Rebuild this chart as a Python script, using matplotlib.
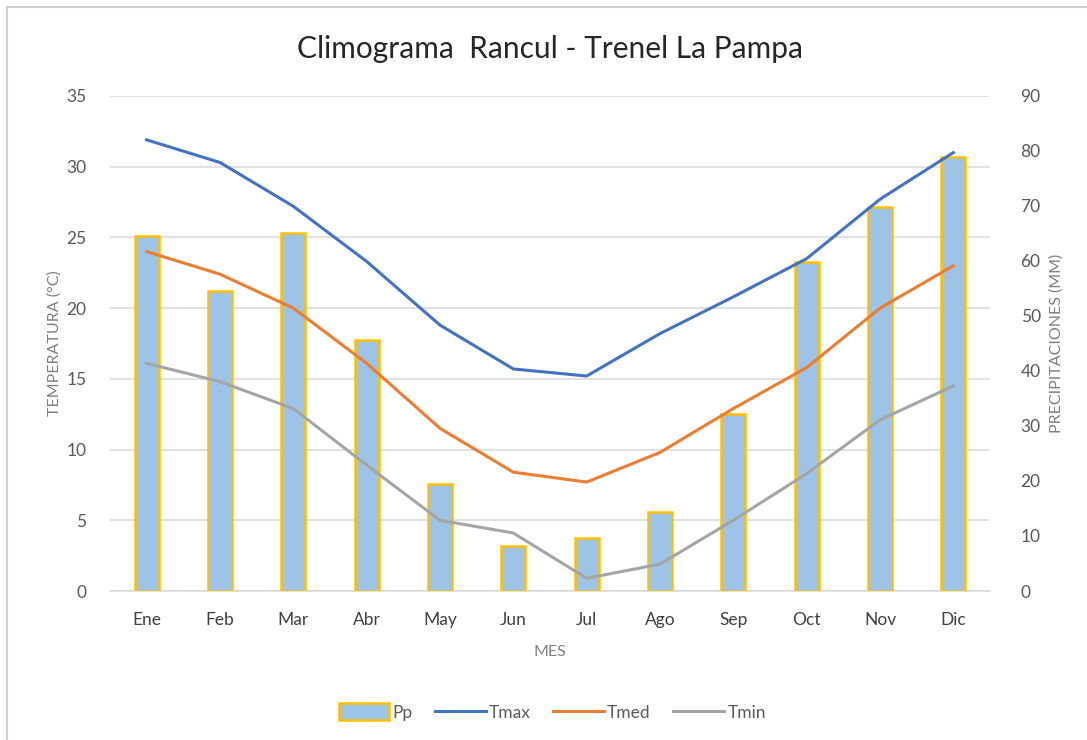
import matplotlib
matplotlib.use("Agg")
import matplotlib.pyplot as plt
from matplotlib.patches import Rectangle
import numpy as np

plt.rcParams['font.family'] = ['Lato', 'DejaVu Sans']

meses = ['Ene', 'Feb', 'Mar', 'Abr', 'May', 'Jun', 'Jul', 'Ago', 'Sep', 'Oct', 'Nov', 'Dic']
pp = [64.5, 54.5, 65.0, 45.7, 19.4, 8.1, 9.6, 14.4, 32.2, 59.8, 69.8, 78.9]
tmax = [31.9, 30.3, 27.2, 23.3, 18.8, 15.7, 15.2, 18.2, 20.8, 23.5, 27.7, 31.0]
tmed = [24.0, 22.4, 20.0, 16.1, 11.5, 8.4, 7.7, 9.8, 12.9, 15.8, 20.0, 23.0]
tmin = [16.1, 14.8, 12.9, 8.9, 5.0, 4.1, 0.9, 1.9, 5.0, 8.3, 12.1, 14.5]

gris_txt = '#595959'
gris_eje = '#7f7f7f'
gris_grid = '#d9d9d9'

fig = plt.figure(figsize=(10.87, 7.40), dpi=100)
fig.patch.set_facecolor('white')

# marco del grafico
fig.patches.append(Rectangle((7 / 1087, -0.01), 1.02, 1 - 7 / 740 + 0.01,
                             transform=fig.transFigure, fill=False,
                             edgecolor='#d0d0d0', linewidth=1.5))

rect = [110 / 1087, 1 - 591 / 740, 880 / 1087, 495 / 740]
ax1 = fig.add_axes(rect)
x = np.arange(len(meses))

# eje de temperatura con la grilla
ax1.set_ylim(0, 35)
ax1.set_yticks(np.arange(0, 36, 5))
ax1.set_xlim(-0.5, len(meses) - 0.5)
ax1.set_xticks(x)
ax1.set_xticklabels(meses, fontsize=12.5, color='#404040')
ax1.grid(axis='y', color=gris_grid, linewidth=1.1)
ax1.set_axisbelow(True)
for s in ['top', 'right', 'left']:
    ax1.spines[s].set_visible(False)
ax1.spines['bottom'].set_color(gris_grid)
ax1.spines['bottom'].set_linewidth(1.1)
ax1.tick_params(axis='y', length=0, pad=17, labelsize=12.5, labelcolor=gris_txt)
ax1.tick_params(axis='x', length=0, pad=15)
ax1.set_ylabel('TEMPERATURA (°C)', fontsize=11.5, color=gris_eje, labelpad=3)
ax1.set_xlabel('MES', fontsize=11.5, color=gris_eje, labelpad=12)

# precipitaciones
ax2 = ax1.twinx()
ax2.set_ylim(0, 90)
ax2.set_yticks(np.arange(0, 91, 10))
barras = ax2.bar(x, pp, width=0.33, color='#9dc3e6', edgecolor='#ffc000',
                 linewidth=1.8, label='Pp')
for s in ax2.spines.values():
    s.set_visible(False)
ax2.tick_params(axis='y', length=0, pad=22, labelsize=12.5, labelcolor=gris_txt)
ax2.set_ylabel('PRECIPITACIONES (MM)', fontsize=11.5, color=gris_eje, labelpad=6)

# temperaturas encima de las barras
ax3 = ax1.twinx()
ax3.set_ylim(0, 35)
ax3.set_axis_off()
l1, = ax3.plot(x, tmax, color='#4472c4', linewidth=2.2, label='Tmax')
l2, = ax3.plot(x, tmed, color='#ed7d31', linewidth=2.2, label='Tmed')
l3, = ax3.plot(x, tmin, color='#a5a5a5', linewidth=2.2, label='Tmin')

fig.text(0.506, 1 - 49 / 740, 'Climograma  Rancul - Trenel La Pampa',
         ha='center', va='center', fontsize=21.5, color='#262626')

leg = fig.legend([barras, l1, l2, l3], ['Pp', 'Tmax', 'Tmed', 'Tmin'],
                 loc='center', bbox_to_anchor=(0.508, 1 - 712 / 740), ncol=4,
                 frameon=False, fontsize=12.5, handlelength=2.9,
                 handleheight=1.1, handletextpad=0.2, columnspacing=1.3)
for t in leg.get_texts():
    t.set_color(gris_txt)

fig.savefig('out.png', dpi=100, facecolor='white')
